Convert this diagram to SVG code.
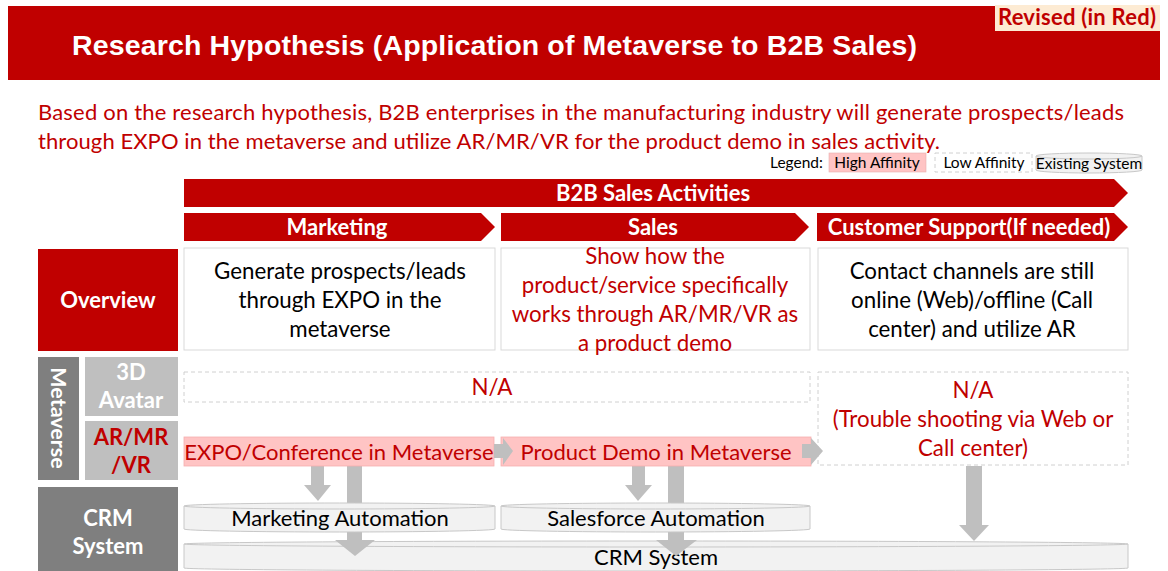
<svg xmlns="http://www.w3.org/2000/svg" width="1168" height="571" viewBox="0 0 1168 571">
  <defs>
    <style>
      .cal { font-family: Lato, "Open Sans", "Noto Sans", sans-serif; }
      .ttl { font-family: "Liberation Sans", Arial, sans-serif; font-weight: bold; fill: #ffffff; }
      .red { fill: #c00000; }
      .wb { fill: #ffffff; font-weight: bold; }
      .blk { fill: #000000; }
      .box { fill: #ffffff; stroke: #d9d9d9; stroke-width: 1; }
      .dash { fill: none; stroke: #d0d0d0; stroke-width: 1; stroke-dasharray: 4 3; }
      .pink { fill: #ffc4c4; stroke: #f5b0b0; stroke-width: 0.8; }
      .cyl { fill: #f2f2f2; stroke: #c8c8c8; stroke-width: 1; }
      .garrow { fill: #bfbfbf; }
      .dgray { fill: #7f7f7f; }
      .lgray { fill: #bfbfbf; }
    </style>
  </defs>

  <!-- title band -->
  <g id="header">
    <rect x="8" y="6" width="1152" height="74" fill="#c00000"/>
    <text class="ttl" x="72" y="55" font-size="28.5" textLength="845">Research Hypothesis (Application of Metaverse to B2B Sales)</text>
  </g>
  <g id="revised">
    <rect x="995" y="5" width="165" height="26" fill="#fdebd3"/>
    <text class="cal red" x="998" y="25" font-size="22" font-weight="bold" textLength="158">Revised (in Red)</text>
  </g>

  <!-- summary statement -->
  <g id="summary" class="cal red" font-size="22">
    <text x="38" y="120" textLength="1086">Based on the research hypothesis, B2B enterprises in the manufacturing industry will generate prospects/leads</text>
    <text x="38" y="149" textLength="902">through EXPO in the metaverse and utilize AR/MR/VR for the product demo in sales activity.</text>
  </g>

  <!-- legend -->
  <g id="legend" class="cal" font-size="15.5">
    <text x="770" y="168" class="blk">Legend:</text>
    <rect x="829" y="153" width="97" height="19" fill="#ffc4c4" stroke="#e8b0b0" stroke-width="0.6"/>
    <text x="877" y="168" text-anchor="middle" class="blk">High Affinity</text>
    <rect x="935" y="153" width="97" height="19" class="dash"/>
    <text x="984" y="168" text-anchor="middle" class="blk">Low Affinity</text>
    <path class="cyl" d="M1036,156 a53,3 0 0 1 106,0 V170 a53,3 0 0 1 -106,0 Z"/>
    <path d="M1036,156 a53,3 0 0 0 106,0" fill="none" stroke="#c8c8c8" stroke-width="1"/>
    <text x="1089" y="169" text-anchor="middle" class="blk">Existing System</text>
  </g>

  <!-- phase chevrons -->
  <g id="b2b-activities">
    <polygon points="184,179 1114,179 1128,193 1114,207 184,207" fill="#c00000"/>
    <text class="cal wb" x="653" y="201" font-size="22" text-anchor="middle">B2B Sales Activities</text>
  </g>
  <g id="phase-marketing">
    <polygon points="184,213 481,213 495,227 481,241 184,241" fill="#c00000"/>
    <text class="cal wb" x="337" y="235" font-size="22" text-anchor="middle">Marketing</text>
  </g>
  <g id="phase-sales">
    <polygon points="501,213 795,213 809,227 795,241 501,241" fill="#c00000"/>
    <text class="cal wb" x="653" y="235" font-size="22" text-anchor="middle">Sales</text>
  </g>
  <g id="phase-support">
    <polygon points="817,213 1114,213 1128,227 1114,241 817,241" fill="#c00000"/>
    <text class="cal wb" x="969" y="235" font-size="22" text-anchor="middle">Customer Support(If needed)</text>
  </g>

  <!-- row headers -->
  <g id="row-overview">
    <rect x="38" y="249" width="140" height="102" fill="#c00000"/>
    <text class="cal wb" x="108" y="308" font-size="22" text-anchor="middle">Overview</text>
  </g>
  <g id="row-metaverse">
    <rect x="38" y="357" width="41" height="123" class="dgray"/>
    <text class="cal wb" font-size="21.5" text-anchor="middle" transform="translate(51,418) rotate(90)">Metaverse</text>
  </g>
  <g id="row-avatar">
    <rect x="85" y="357" width="93" height="59" class="lgray"/>
    <text class="cal wb" x="131" y="380" font-size="22" text-anchor="middle">3D</text>
    <text class="cal wb" x="131" y="408" font-size="22" text-anchor="middle">Avatar</text>
  </g>
  <g id="row-armrvr">
    <rect x="85" y="421" width="93" height="59" class="lgray"/>
    <text class="cal red" x="131" y="445" font-size="22" font-weight="bold" text-anchor="middle">AR/MR</text>
    <text class="cal red" x="131" y="473" font-size="22" font-weight="bold" text-anchor="middle">/VR</text>
  </g>
  <g id="row-crm">
    <rect x="38" y="487" width="140" height="84" class="dgray"/>
    <text class="cal wb" x="108" y="526" font-size="22" text-anchor="middle">CRM</text>
    <text class="cal wb" x="108" y="554" font-size="22" text-anchor="middle">System</text>
  </g>

  <!-- overview cells -->
  <g id="overview-marketing" class="cal blk" font-size="22.3" text-anchor="middle">
    <rect x="184" y="248" width="311" height="102" class="box"/>
    <text x="340" y="279">Generate prospects/leads</text>
    <text x="340" y="308">through EXPO in the</text>
    <text x="340" y="337">metaverse</text>
  </g>
  <g id="overview-sales" class="cal red" font-size="22.3" text-anchor="middle">
    <rect x="501" y="248" width="309" height="102" class="box"/>
    <text x="655" y="264">Show how the</text>
    <text x="655" y="293">product/service specifically</text>
    <text x="655" y="322">works through AR/MR/VR as</text>
    <text x="655" y="351">a product demo</text>
  </g>
  <g id="overview-support" class="cal blk" font-size="22.3" text-anchor="middle">
    <rect x="818" y="248" width="310" height="102" class="box"/>
    <text x="972" y="279">Contact channels are still</text>
    <text x="972" y="308">online (Web)/offline (Call</text>
    <text x="972" y="337">center) and utilize AR</text>
  </g>

  <!-- metaverse cells -->
  <g id="avatar-na" class="cal red" font-size="22.3" text-anchor="middle">
    <rect x="184" y="372" width="626" height="30" class="dash"/>
    <text x="492" y="395">N/A</text>
  </g>
  <g id="support-na" class="cal red" font-size="22.3" text-anchor="middle">
    <rect x="818" y="372" width="310" height="93" class="dash"/>
    <text x="973" y="398">N/A</text>
    <text x="973" y="427">(Trouble shooting via Web or</text>
    <text x="973" y="456">Call center)</text>
  </g>

  <!-- existing systems (CRM base first so arrows sit above it) -->
  <g id="crm-system" class="cal blk" font-size="22" text-anchor="middle">
    <path class="cyl" d="M184,544 a472,3 0 0 1 944,0 V568 a472,3 0 0 1 -944,0 Z"/>
    <path d="M184,544 a472,3 0 0 0 944,0" fill="none" stroke="#c8c8c8" stroke-width="1"/>
    <text x="656" y="565">CRM System</text>
  </g>

  <!-- connectors -->
  <g id="connectors" class="garrow">
    <!-- EXPO to CRM System (long) -->
    <polygon points="347,466 362,466 362,540 375,540 355,556 335,540 347,540"/>
    <!-- Product Demo to CRM System (long) -->
    <polygon points="668,466 684,466 684,540 697,540 676,556 656,540 668,540"/>
    <!-- Trouble shooting to CRM System -->
    <polygon points="966,466 982,466 982,525 989,525 974,541 959,525 966,525"/>
    <!-- EXPO to Marketing Automation -->
    <polygon points="311,466 324,466 324,485 331,485 318,501 304,485 311,485"/>
    <!-- Product Demo to Salesforce Automation -->
    <polygon points="632,466 645,466 645,485 652,485 638,501 625,485 632,485"/>
  </g>

  <g id="marketing-automation" class="cal blk" font-size="22" text-anchor="middle">
    <path class="cyl" d="M184,506 a155.5,3 0 0 1 311,0 V529 a155.5,3 0 0 1 -311,0 Z"/>
    <path d="M184,506 a155.5,3 0 0 0 311,0" fill="none" stroke="#c8c8c8" stroke-width="1"/>
    <text x="340" y="526">Marketing Automation</text>
  </g>
  <g id="salesforce-automation" class="cal blk" font-size="22" text-anchor="middle">
    <path class="cyl" d="M501,506 a154.5,3 0 0 1 309,0 V529 a154.5,3 0 0 1 -309,0 Z"/>
    <path d="M501,506 a154.5,3 0 0 0 309,0" fill="none" stroke="#c8c8c8" stroke-width="1"/>
    <text x="656" y="526">Salesforce Automation</text>
  </g>

  <!-- AR/MR/VR activities -->
  <g id="expo-conference" class="cal red" font-size="22" text-anchor="middle">
    <rect x="184" y="437" width="310" height="29" class="pink"/>
    <text x="339" y="460">EXPO/Conference in Metaverse</text>
  </g>
  <g id="product-demo" class="cal red" font-size="22" text-anchor="middle">
    <rect x="501" y="437" width="310" height="29" class="pink"/>
    <text x="656" y="460">Product Demo in Metaverse</text>
  </g>
  <g id="flow-arrows" class="garrow">
    <polygon points="494,444 503,444 503,438 513,451 503,465 503,458 494,458"/>
    <polygon points="802,444 811,444 811,438 823,451 811,465 811,458 802,458"/>
  </g>
</svg>
